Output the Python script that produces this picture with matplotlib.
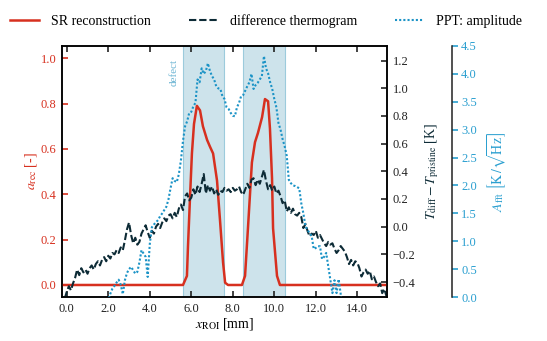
import matplotlib
matplotlib.use('Agg')
import matplotlib.pyplot as plt
import numpy as np
from matplotlib.transforms import blended_transform_factory
from matplotlib.ticker import FuncFormatter

plt.rcParams['font.family'] = ['Liberation Serif', 'DejaVu Serif']
plt.rcParams['mathtext.fontset'] = 'stix'
plt.rcParams['axes.unicode_minus'] = True

# ---------------- data ----------------
# SR reconstruction (left axis)
x_sr = [-0.2, 5.60, 5.79, 5.84, 5.94, 6.03, 6.13, 6.27, 6.42, 6.56, 6.76, 6.90, 7.05,
        7.24, 7.38, 7.53, 7.63, 7.77, 8.44, 8.59, 8.73, 8.92, 9.07, 9.21, 9.41,
        9.55, 9.70, 9.79, 9.89, 9.94, 10.13, 10.27, 15.4]
a_sr = [0.0, 0.0, 0.04, 0.17, 0.39, 0.58, 0.71, 0.79, 0.77, 0.70, 0.64, 0.61, 0.58,
        0.46, 0.29, 0.10, 0.01, 0.0, 0.0, 0.04, 0.25, 0.54, 0.63, 0.67, 0.74,
        0.82, 0.81, 0.69, 0.47, 0.25, 0.04, 0.0, 0.0]

# sample grid of the thermogram / PPT profiles (0.1 mm steps from -0.1 to 15.4 mm)
x_profile = np.linspace(-0.1, 15.4, 156)

# difference thermogram (right axis) [K]
t_diff = [
    -0.52, -0.47, -0.43, -0.46, -0.41, -0.37, -0.31, -0.35, -0.30, -0.33, -0.31,
    -0.34, -0.30, -0.28, -0.31, -0.27, -0.25, -0.28, -0.24, -0.22, -0.25,
    -0.21, -0.23, -0.19, -0.20, -0.17, -0.19, -0.15, -0.17, -0.10, -0.02,
    0.03, -0.06, -0.12, -0.08, -0.13, -0.11, -0.05, -0.02, 0.01, -0.04,
    -0.08, -0.03, -0.05, 0.00, 0.02, -0.01, 0.03, 0.06, 0.04, 0.08,
    0.09, 0.06, 0.10, 0.07, 0.13, 0.16, 0.12, 0.22, 0.24, 0.19,
    0.21, 0.27, 0.23, 0.29, 0.25, 0.31, 0.38, 0.24, 0.30, 0.26,
    0.29, 0.24, 0.27, 0.23, 0.26, 0.25, 0.28, 0.26, 0.27, 0.25,
    0.28, 0.26, 0.27, 0.29, 0.25, 0.23, 0.27, 0.31, 0.28, 0.34,
    0.35, 0.30, 0.34, 0.31, 0.36, 0.41, 0.33, 0.27, 0.30, 0.26,
    0.29, 0.24, 0.26, 0.22, 0.17, 0.19, 0.11, 0.14, 0.10, 0.13,
    0.09, 0.08, 0.10, 0.07, -0.01, 0.02, -0.03, -0.07, -0.05, -0.06,
    -0.03, -0.08, -0.06, -0.09, -0.12, -0.14, -0.11, -0.13, -0.12, -0.16,
    -0.19, -0.17, -0.14, -0.16, -0.18, -0.22, -0.27, -0.24, -0.28, -0.25,
    -0.26, -0.30, -0.36, -0.33, -0.31, -0.34, -0.32, -0.38, -0.36, -0.40,
    -0.43, -0.41, -0.48, -0.45, -0.50,
]

# PPT amplitude (third axis) [K/sqrt(Hz)]
a_fft = [
    -0.5, -0.5, -0.5, -0.5, -0.5, -0.5, -0.5, -0.5, -0.5, -0.5, -0.5,
    -0.5, -0.5, -0.5, -0.5, -0.5, -0.5, -0.5, -0.5, -0.5, -0.4,
    -0.05, 0.06, 0.15, 0.20, 0.26, 0.31, 0.22, 0.05, 0.30, 0.43,
    0.50, 0.54, 0.48, 0.42, 0.45, 0.62, 0.84, 0.78, 0.72, 0.36,
    0.95, 1.25, 1.30, 1.34, 1.38, 1.45, 1.50, 1.56, 1.62, 1.75,
    1.95, 2.13, 2.08, 2.06, 2.20, 2.45, 2.80, 3.06, 3.15, 3.30,
    3.32, 3.42, 3.48, 3.90, 3.85, 4.10, 4.00, 4.05, 4.19, 4.05,
    3.96, 3.90, 3.78, 3.74, 3.73, 3.60, 3.55, 3.40, 3.37, 3.30,
    3.25, 3.24, 3.40, 3.48, 3.60, 3.62, 3.70, 3.78, 3.85, 4.00,
    3.73, 3.80, 3.84, 3.90, 3.96, 4.32, 4.10, 4.01, 3.85, 3.73,
    3.55, 3.40, 3.12, 3.00, 2.83, 2.70, 2.53, 2.10, 2.04, 2.00,
    1.99, 1.97, 1.95, 1.68, 1.50, 1.27, 1.20, 1.15, 1.09, 0.86,
    0.88, 0.91, 0.91, 0.68, 0.72, 0.79, 0.55, 0.32, 0.07, 0.30,
    0.07, 0.32, 0.05, -0.30, -0.5, -0.5, -0.5, -0.5, -0.5, -0.5,
    -0.5, -0.5, -0.5, -0.5, -0.5, -0.5, -0.5, -0.5, -0.5, -0.5,
    -0.5, -0.5, -0.5, -0.5, -0.5,
]

defect_start = [5.58, 8.51]
defect_end = [7.59, 10.52]

x_ticks = [0, 2, 4, 6, 8, 10, 12, 14]
left_ticks = [0.0, 0.2, 0.4, 0.6, 0.8, 1.0]
right_ticks = [-0.4, -0.2, 0.0, 0.2, 0.4, 0.6, 0.8, 1.0, 1.2]
third_ticks = [0.0, 0.5, 1.0, 1.5, 2.0, 2.5, 3.0, 3.5, 4.0, 4.5]

# ---------------- style ----------------
RED = '#d7301f'
DARK = '#0d2b36'
BLUE = '#1b93c6'
BLUE_TXT = '#2a9fd0'
SHADE = '#cde3eb'
SHADE_EDGE = '#9ccbdc'

fmt = FuncFormatter(lambda v, p: ('%.1f' % v).replace('-', '\u2212'))

fig = plt.figure(figsize=(5.47, 3.41), dpi=100)
ax1 = fig.add_axes([62/547, 1-297/341, 325/547, 251/341])
ax2 = ax1.twinx()
ax3 = ax1.twinx()
ax3.spines['right'].set_position(('outward', 65*72/100))
for s in ['left', 'top', 'bottom']:
    ax3.spines[s].set_visible(False)

for s in ax1.spines.values():
    s.set_linewidth(1.1)
for s in ax2.spines.values():
    s.set_linewidth(1.1)
ax3.spines['right'].set_linewidth(1.1)
ax3.spines['right'].set_color('#222222')

for xs, xe in zip(defect_start, defect_end):
    ax1.axvspan(xs, xe, facecolor=SHADE, edgecolor=SHADE_EDGE, linewidth=0.8, zorder=0)

l1, = ax1.plot(x_sr, a_sr, color=RED, lw=1.8, label='SR reconstruction', zorder=3)
l2, = ax2.plot(x_profile, t_diff, color=DARK, lw=1.5, linestyle=(0, (3.5, 1.4)),
               label='difference thermogram')
l3, = ax3.plot(x_profile, a_fft, color=BLUE, lw=1.5, linestyle=(0, (1, 1)),
               label='PPT: amplitude')

ax1.set_xlim(-0.23, 15.43)
ax1.set_ylim(-0.053, 1.054)
ax2.set_ylim(-0.508, 1.305)
ax3.set_ylim(0, 4.5)

ax1.set_xticks(x_ticks)
ax1.xaxis.set_major_formatter(fmt)
ax1.set_yticks(left_ticks)
ax1.yaxis.set_major_formatter(fmt)
ax2.set_yticks(right_ticks)
ax2.yaxis.set_major_formatter(fmt)
ax3.set_yticks(third_ticks)
ax3.yaxis.set_major_formatter(fmt)

ax1.tick_params(axis='x', direction='in', top=True, length=4, width=1.2, labelsize=9,
                pad=4, colors='#222222')
ax1.tick_params(axis='y', direction='in', length=4, width=1.2, labelsize=9, pad=4,
                colors=RED)
ax2.tick_params(axis='y', direction='in', length=4, width=1.2, labelsize=9, pad=4,
                colors='#222222')
ax3.tick_params(axis='y', direction='out', length=4, width=1.2, labelsize=9, pad=2.5,
                colors=BLUE_TXT)

ax1.set_xlabel(r'$x_{\mathrm{ROI}}$ [mm]', fontsize=10, labelpad=1)
ax1.set_ylabel(r'$a_{\mathrm{rec}}$ [-]', fontsize=10, color=RED, labelpad=1)
ax2.set_ylabel(r'$T_{\mathrm{diff}} - T_{\mathrm{pristine}}$ [K]', fontsize=10,
               color=DARK, labelpad=6)
ax3.set_ylabel(r'$A_{\mathrm{fft}}\ \left[\mathrm{K}\,/\sqrt{\mathrm{Hz}}\right]$',
               fontsize=10, color=BLUE_TXT, labelpad=6)

trans = blended_transform_factory(ax1.transData, ax1.transAxes)
ax1.text(5.40, 0.95, 'defect', rotation=90, ha='right', va='top', fontsize=8,
         color='#6db5d3', transform=trans)

fig.legend([l1, l2, l3], [l1.get_label(), l2.get_label(), l3.get_label()],
           loc='center', bbox_to_anchor=(266/547, 1-21/341), ncol=3, frameon=False,
           fontsize=10, handlelength=2.1, handletextpad=0.86, columnspacing=2.7)

fig.savefig('out.png', dpi=100)
